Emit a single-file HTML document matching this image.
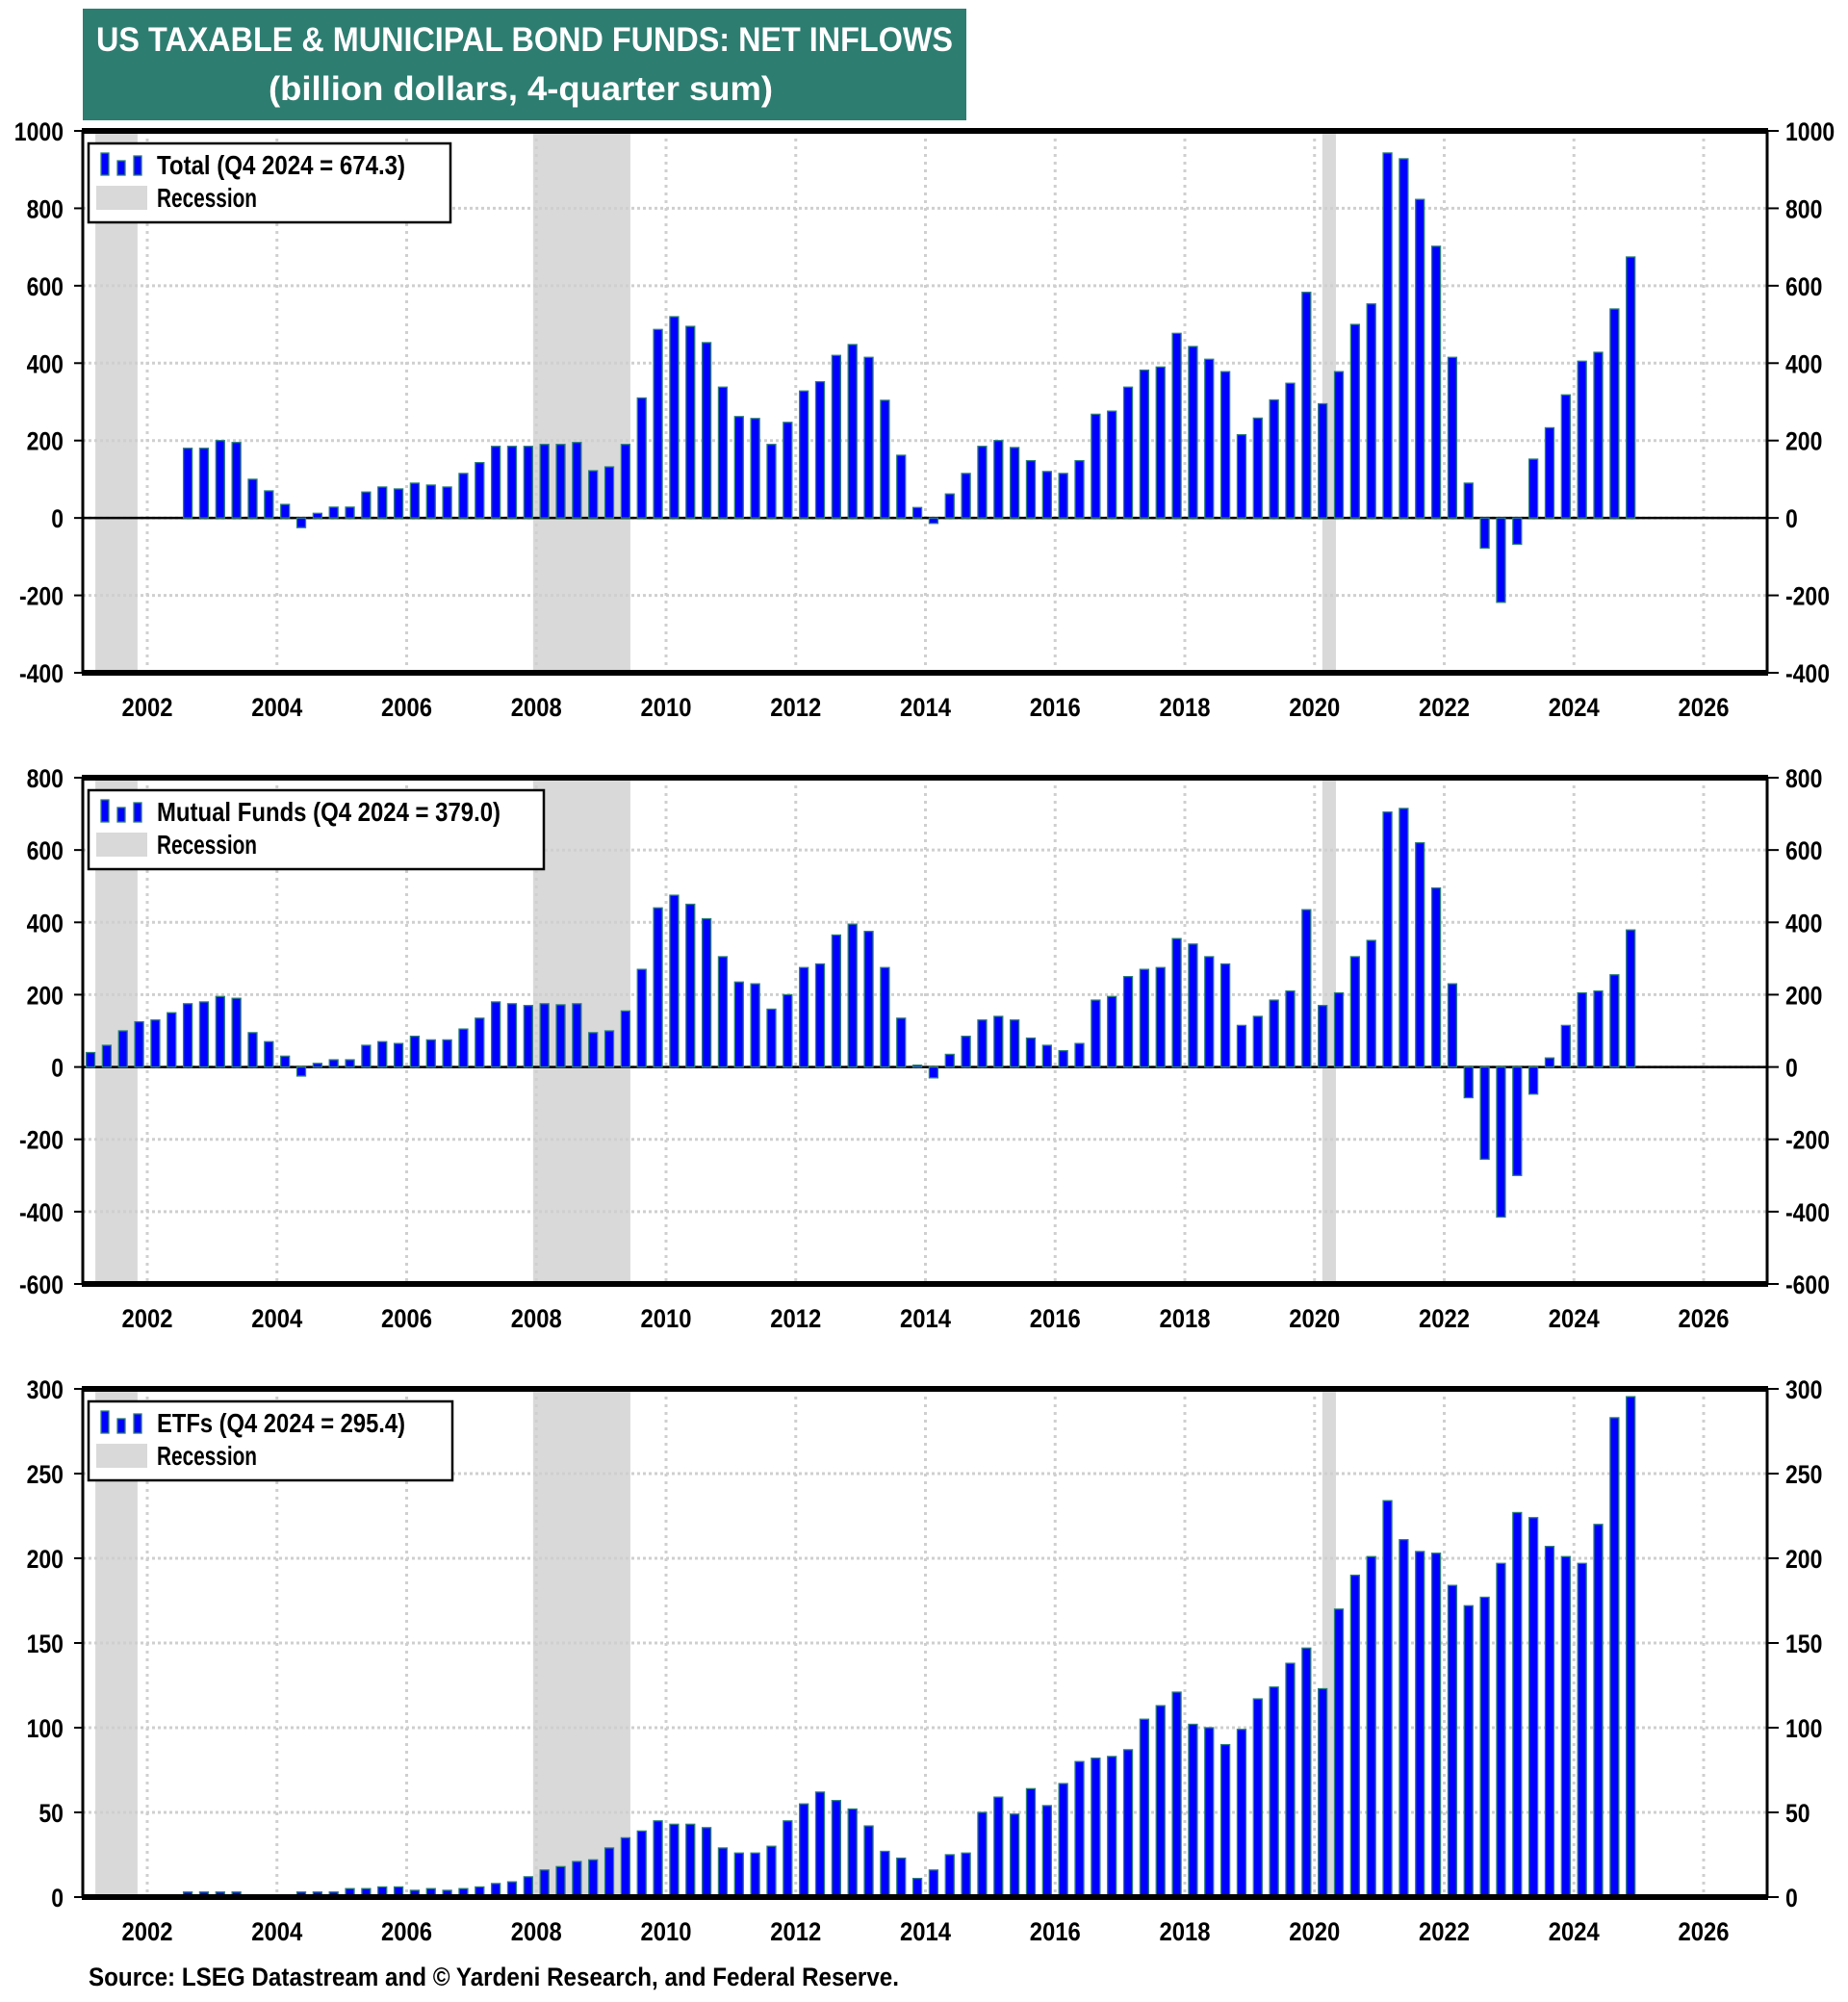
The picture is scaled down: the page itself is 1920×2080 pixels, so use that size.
<!DOCTYPE html>
<html><head><meta charset="utf-8"><style>
html,body{margin:0;padding:0;background:#fff;}
svg{display:block;}
text{font-family:"Liberation Sans Narrow","Liberation Sans",sans-serif;font-weight:bold;}
</style></head><body>
<svg id="chart" width="1920" height="2080" viewBox="0 0 1920 2080" xmlns="http://www.w3.org/2000/svg">
<rect x="86" y="9" width="918" height="116" fill="#2e7d71"/>
<text x="545" y="53" fill="#fff" font-size="35" text-anchor="middle" textLength="890" lengthAdjust="spacingAndGlyphs">US TAXABLE &amp; MUNICIPAL BOND FUNDS: NET INFLOWS</text>
<text x="541" y="104" fill="#fff" font-size="35" text-anchor="middle" textLength="524" lengthAdjust="spacingAndGlyphs">(billion dollars, 4-quarter sum)</text>
<text x="92" y="2063" fill="#000" font-size="27" textLength="842" lengthAdjust="spacingAndGlyphs">Source: LSEG Datastream and © Yardeni Research, and Federal Reserve.</text>
</svg>
<script>
// ---- data ----
const yearTicks = [2002,2004,2006,2008,2010,2012,2014,2016,2018,2020,2022,2024,2026];
const recessions = [[2001.2,2001.85],[2007.95,2009.45],[2020.12,2020.33]];
const totalStart = 2002.5; // Q3 2002
const totalValues = [180,180,
200,195,100,70, 35,-25,12,28, 28,67,80,75, 90,85,80,115, 143,185,185,185, 190,190,195,122, 132,190,310,487,
520,495,453,338, 262,257,190,247, 328,352,420,448, 415,304,162,27, -14,62,115,185, 200,182,148,120,
115,148,268,276, 338,382,390,477, 443,410,378,215, 258,305,348,583, 295,378,500,553, 943,928,823,702,
415,90,-78,-218, -68,152,233,318, 405,428,540,674.3];
const mfStart = 2001.0; // Q1 2001
const mfValues = [40,60,100,125, 130,150,175,180, 195,190,95,70, 30,-25,10,20, 20,60,70,65, 85,75,75,105,
135,180,175,170, 175,172,175,95, 100,155,270,440, 475,450,410,305, 235,230,160,200, 275,285,365,395,
375,275,135,5, -30,35,85,130, 140,130,80,60, 45,65,185,195, 250,270,275,355, 340,305,285,115,
140,185,210,435, 170,205,305,350, 705,715,620,495, 230,-85,-255,-415, -300,-75,25,115, 205,210,255,379.0];
const etfStart = 2002.5;
const etfValues = [3,3, 3,3,0,0, 1,3,3,3, 5,5,6,6, 4,5,4,5, 6,8,9,12, 16,18,21,22, 29,35,39,45,
43,43,41,29, 26,26,30,45, 55,62,57,52, 42,27,23,11, 16,25,26,50, 59,49,64,54, 67,80,82,83,
87,105,113,121, 102,100,90,99, 117,124,138,147, 123,170,190,201, 234,211,204,203, 184,172,177,197,
227,224,207,201, 197,220,283,295.4];
const totalTicks = [1000,800,600,400,200,0,-200,-400];
const mfTicks = [800,600,400,200,0,-200,-400,-600];
const etfTicks = [300,250,200,150,100,50,0];

const NS='http://www.w3.org/2000/svg';
const svg=document.getElementById('chart');
const X0=86, X1=1836;
function xYear(y){ return 153 + (y-2002)*67.375; }
function mk(tag, attrs, parent){ const e=document.createElementNS(NS,tag); for(const k in attrs) e.setAttribute(k,attrs[k]); (parent||svg).appendChild(e); return e; }
function labLen(s){ let w=0; for(const c of String(s)) w += (c==='-'?7.6:12.8); return w; }

function panel(cfg){
  const g=mk('g',{});
  
  
  const yMax=cfg.ticks[0], yMin=cfg.ticks[cfg.ticks.length-1];
  const yS=v=> cfg.top + (yMax-v)/(yMax-yMin)*(cfg.bottom-cfg.top);
  recessions.forEach(r=>{
    const a=Math.max(xYear(r[0]),X0), b=xYear(r[1]);
    const e=mk('rect',{x:a,y:cfg.top,width:b-a,height:cfg.bottom-cfg.top,fill:'#d9d9d9'},g);
    
    
  });
  cfg.ticks.forEach(t=>{
    const y=yS(t);
    const e=mk('line',{x1:X0,x2:X1,y1:y,y2:y,stroke:'#cfcfcf','stroke-width':3,'stroke-dasharray':'3 3'},g);
    
    
    const l=mk('text',{x:X0-20,y:y+10,'font-size':27,'text-anchor':'end',fill:'#000',textLength:labLen(t),lengthAdjust:'spacingAndGlyphs'},g); l.textContent=t;
    
    
    const r=mk('text',{x:X1+19,y:y+10,'font-size':27,fill:'#000',textLength:labLen(t),lengthAdjust:'spacingAndGlyphs'},g); r.textContent=t;
    
    
    mk('line',{x1:X0-9,x2:X0,y1:y,y2:y,stroke:'#000','stroke-width':2},g);
    mk('line',{x1:X1,x2:X1+12,y1:y,y2:y,stroke:'#000','stroke-width':2},g);
  });
  yearTicks.forEach(yr=>{
    const x=xYear(yr);
    const e=mk('line',{x1:x,x2:x,y1:cfg.top,y2:cfg.bottom,stroke:'#cfcfcf','stroke-width':3,'stroke-dasharray':'3 5'},g);
    
    
    const l=mk('text',{x:x,y:cfg.bottom+45,'font-size':27,'text-anchor':'middle',fill:'#000',textLength:53,lengthAdjust:'spacingAndGlyphs'},g); l.textContent=yr;
    
    
  });
  if(yMin<0){ const z=yS(0); mk('line',{x1:X0,x2:X1,y1:z,y2:z,stroke:'#000','stroke-width':2.5},g); }
  const y0=yS(0);
  cfg.values.forEach((v,i)=>{
    if(v===0) return;
    const yr=cfg.start + i*0.25 + 0.125;
    const x=xYear(yr);
    const yv=yS(v);
    const b=mk('rect',{x:x-4.5,y:Math.min(yv,y0),width:9,height:Math.max(Math.abs(y0-yv),1),fill:'#0000ff',stroke:'#2e8078','stroke-width':1.3},g);
    
    
  });
  mk('line',{x1:X0,x2:X0,y1:cfg.top,y2:cfg.bottom,stroke:'#000','stroke-width':3},g);
  mk('line',{x1:X1,x2:X1,y1:cfg.top,y2:cfg.bottom,stroke:'#000','stroke-width':3},g);
  mk('line',{x1:X0-1,x2:X1+1,y1:cfg.top,y2:cfg.top,stroke:'#000','stroke-width':6},g);
  mk('line',{x1:X0-1,x2:X1+1,y1:cfg.bottom,y2:cfg.bottom,stroke:'#000','stroke-width':6},g);
  const lg=mk('g',{},g);
  
  
  const lt=cfg.top+13;
  mk('rect',{x:92,y:lt,width:cfg.legW,height:82,fill:'#fff',stroke:'#000','stroke-width':2.5},lg);
  mk('rect',{x:105,y:lt+10,width:8,height:23,fill:'#0000ff',stroke:'#2e8078','stroke-width':1.3},lg);
  mk('rect',{x:122,y:lt+18,width:8,height:15,fill:'#0000ff',stroke:'#2e8078','stroke-width':1.3},lg);
  mk('rect',{x:139,y:lt+13,width:8,height:20,fill:'#0000ff',stroke:'#2e8078','stroke-width':1.3},lg);
  mk('rect',{x:100,y:lt+44,width:53,height:25,fill:'#d9d9d9'},lg);
  const t1=mk('text',{x:163,y:lt+32,'font-size':28,fill:'#000',textLength:cfg.labLen,lengthAdjust:'spacingAndGlyphs'},lg); t1.textContent=cfg.label;
  
  
  const t2=mk('text',{x:163,y:lt+66,'font-size':28,fill:'#000',textLength:104,lengthAdjust:'spacingAndGlyphs'},lg); t2.textContent='Recession';
  
  
}
panel({name:'total',top:136,bottom:699,ticks:totalTicks,values:totalValues,start:totalStart,label:'Total (Q4 2024 = 674.3)',labLen:258,legW:376});
panel({name:'mutual-funds',top:808,bottom:1334,ticks:mfTicks,values:mfValues,start:mfStart,label:'Mutual Funds (Q4 2024 = 379.0)',labLen:357,legW:473});
panel({name:'etfs',top:1443,bottom:1971,ticks:etfTicks,values:etfValues,start:etfStart,label:'ETFs (Q4 2024 = 295.4)',labLen:258,legW:378});
</script>
</body></html>
